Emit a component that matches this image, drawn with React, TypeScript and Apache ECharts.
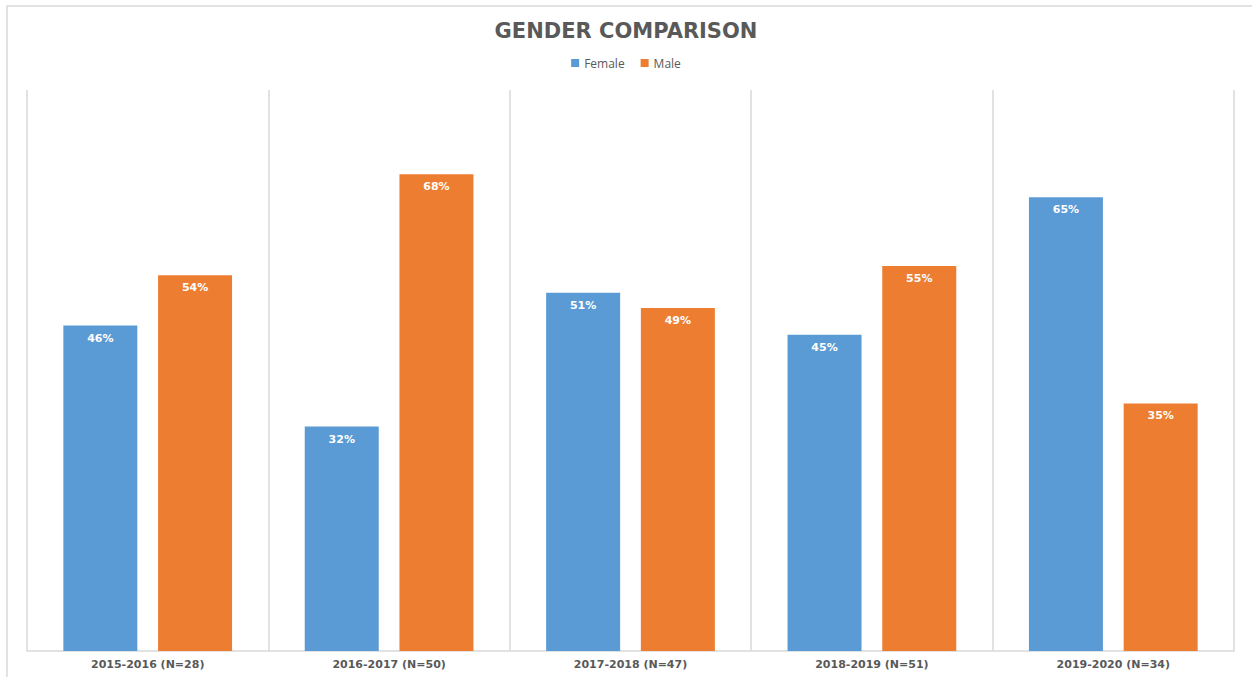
import React, { useEffect, useRef } from "react";
import * as echarts from "echarts";

const categories = [
  "2015-2016 (N=28)",
  "2016-2017 (N=50)",
  "2017-2018 (N=47)",
  "2018-2019 (N=51)",
  "2019-2020 (N=34)",
];
const female = [46.4, 32, 51.1, 45.1, 64.7];
const male = [53.6, 68, 48.9, 54.9, 35.3];

export default function App() {
  const ref = useRef<HTMLDivElement>(null);
  useEffect(() => {
    if (!ref.current) return;
    const chart = echarts.init(ref.current, undefined, { renderer: "svg" });
    const font = "'Open Sans', 'DejaVu Sans', sans-serif";
    const label = {
      show: true,
      position: "insideTop" as const,
      distance: 7,
      color: "#ffffff",
      fontWeight: "bold" as const,
      fontSize: 11,
      fontFamily: "'DejaVu Sans', sans-serif",
      formatter: (p: any) => Math.round(p.value) + "%",
    };
    chart.setOption({
      animation: false,
      backgroundColor: "#ffffff",
      title: {
        text: "GENDER COMPARISON",
        left: "center",
        top: 15,
        textStyle: {
          color: "#595959",
          fontSize: 21,
          fontWeight: "bold",
          fontFamily: "'DejaVu Sans', sans-serif",
        },
      },
      legend: {
        top: 52,
        left: "center",
        itemWidth: 8,
        itemHeight: 8,
        itemGap: 16,
        icon: "rect",
        textStyle: { color: "#595959", fontSize: 12, fontFamily: font },
        data: ["Female", "Male"],
      },
      graphic: [
        {
          type: "rect",
          shape: { x: 7, y: 6, width: 1260, height: 700 },
          style: { fill: "none", stroke: "#d9d9d9", lineWidth: 1.5 },
          silent: true,
        },
      ],
      grid: { left: 27, right: 18, top: 90, bottom: 26, containLabel: false },
      xAxis: {
        type: "category",
        data: categories,
        axisLine: { show: true, lineStyle: { color: "#d9d9d9", width: 1.5 } },
        axisTick: { show: false },
        splitLine: { show: true, lineStyle: { color: "#d9d9d9", width: 1.5 } },
        axisLabel: {
          color: "#595959",
          fontSize: 11,
          fontWeight: "bold",
          fontFamily: "'DejaVu Sans', sans-serif",
          margin: 8,
        },
      },
      yAxis: {
        type: "value",
        min: 0,
        max: 80,
        show: false,
        splitLine: { show: false },
      },
      series: [
        {
          name: "Female",
          type: "bar",
          data: female,
          barWidth: 74,
          barGap: "28%",
          itemStyle: { color: "#5B9BD5" },
          label,
        },
        {
          name: "Male",
          type: "bar",
          data: male,
          barWidth: 74,
          itemStyle: { color: "#ED7D31" },
          label,
        },
      ],
    });
    return () => chart.dispose();
  }, []);
  return (
    <div
      ref={ref}
      style={{ position: "absolute", left: 0, top: 0, width: 1252, height: 677 }}
    />
  );
}
